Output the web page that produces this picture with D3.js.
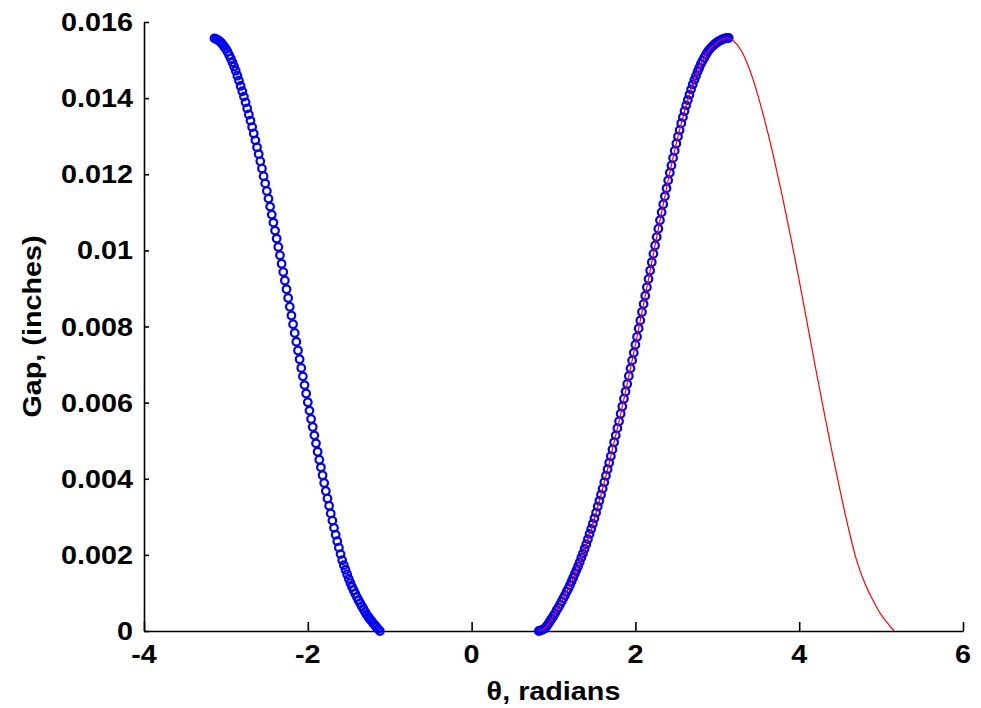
<!DOCTYPE html>
<html>
<head>
<meta charset="utf-8">
<script src="https://cdn.jsdelivr.net/npm/d3@7/dist/d3.min.js"></script>
<style>
body { margin: 0; background: #fff; }
text { font-family: "Liberation Sans", Arial, sans-serif; font-weight: bold; fill: #000; }
</style>
</head>
<body>
<svg width="981" height="708"></svg>
<script>
// blue circles: theta sampled every 0.02 rad, left branch starts at -3.14, right branch at 0.82
var thetaStep = 0.02;
var leftStart = -3.14;
var leftGap = [
  0.01557,0.01555,0.01553,0.01550,0.01546,0.01541,0.01535,0.01529,0.01522,0.01513,
  0.01504,0.01494,0.01483,0.01472,0.01459,0.01446,0.01432,0.01418,0.01404,0.01389,
  0.01373,0.01357,0.01341,0.01324,0.01307,0.01289,0.01271,0.01253,0.01234,0.01215,
  0.01195,0.01176,0.01156,0.01136,0.01115,0.01094,0.01073,0.01052,0.01031,0.01009,
  0.00987,0.00965,0.00943,0.00921,0.00898,0.00875,0.00852,0.00829,0.00806,0.00783,
  0.00760,0.00737,0.00714,0.00691,0.00669,0.00646,0.00624,0.00601,0.00579,0.00557,
  0.00536,0.00514,0.00493,0.00471,0.00450,0.00430,0.00409,0.00389,0.00368,0.00348,
  0.00329,0.00309,0.00290,0.00271,0.00253,0.00236,0.00219,0.00202,0.00186,0.00173,
  0.00161,0.00149,0.00137,0.00126,0.00116,0.00107,0.00098,0.00089,0.00081,0.00073,
  0.00065,0.00058,0.00050,0.00043,0.00037,0.00031,0.00026,0.00020,0.00015,0.00010,
  0.00005,0.00000
];
var rightStart = 0.82;
var rightGap = [
  0.00000,0.00001,0.00003,0.00005,0.00008,0.00014,0.00020,0.00027,0.00033,0.00040,
  0.00047,0.00055,0.00062,0.00070,0.00078,0.00086,0.00094,0.00103,0.00111,0.00120,
  0.00130,0.00140,0.00150,0.00160,0.00170,0.00181,0.00193,0.00204,0.00216,0.00228,
  0.00241,0.00255,0.00268,0.00282,0.00296,0.00311,0.00327,0.00342,0.00358,0.00374,
  0.00391,0.00408,0.00425,0.00442,0.00459,0.00477,0.00496,0.00514,0.00533,0.00551,
  0.00571,0.00590,0.00610,0.00629,0.00649,0.00670,0.00690,0.00711,0.00731,0.00752,
  0.00773,0.00795,0.00816,0.00838,0.00859,0.00881,0.00903,0.00925,0.00947,0.00969,
  0.00991,0.01013,0.01035,0.01057,0.01079,0.01100,0.01121,0.01142,0.01163,0.01184,
  0.01204,0.01223,0.01243,0.01262,0.01281,0.01299,0.01316,0.01334,0.01350,0.01366,
  0.01381,0.01395,0.01409,0.01423,0.01436,0.01448,0.01459,0.01470,0.01480,0.01490,
  0.01498,0.01506,0.01514,0.01521,0.01527,0.01532,0.01536,0.01540,0.01544,0.01547,
  0.01550,0.01552,0.01554,0.01556,0.01557,0.01558,0.01558
];

// red line
var redTheta = [0.82,0.9,1.0,1.1,1.2,1.3,1.4,1.5,1.6,1.7,1.8,1.9,2.0,2.1,2.2,2.3,2.4,2.5,2.6,2.7,2.8,2.9,3.0,3.1,3.14,
  3.2,3.3,3.4,3.5,3.6,3.7,3.8,3.9,4.0,4.1,4.2,4.3,4.4,4.5,4.6,4.7,4.8,4.9,5.0,5.1,5.16];
var redGap = [0,0.00008,0.0004,0.00078,0.0012,0.0017,0.00228,0.00296,0.00374,0.00459,0.00551,0.00649,0.00752,0.00859,
  0.00969,0.01079,0.01184,0.01281,0.01366,0.01436,0.0149,0.01527,0.01547,0.01557,0.01558,
  0.0155,0.01522,0.01472,0.01404,0.01324,0.01234,0.01136,0.01031,0.00921,0.00806,0.00691,0.00579,0.00471,0.00368,
  0.00271,0.00186,0.00126,0.00081,0.00043,0.00015,0];

var xTicks = [-4,-2,0,2,4,6];
var yTicks = [0,0.002,0.004,0.006,0.008,0.01,0.012,0.014,0.016];

var svg = d3.select("svg");
var plotL = 144, plotR = 963, plotT = 22, plotB = 631;
var stretch = 1.15;

var x = d3.scaleLinear().domain([-4, 6]).range([plotL, plotR]);
var y = d3.scaleLinear().domain([0, 0.016]).range([plotB, plotT]);

var blue = leftGap.map(function(g, i){ return {t: leftStart + i*thetaStep, g: g}; })
  .concat(rightGap.map(function(g, i){ return {t: rightStart + i*thetaStep, g: g}; }));

svg.append("g")
  .attr("transform", "translate(0," + plotB + ")")
  .call(d3.axisBottom(x).tickValues(xTicks).tickSizeInner(-9).tickSizeOuter(0).tickFormat(""))
  .call(function(g){ g.selectAll("path,line").attr("stroke", "#000").attr("stroke-width", 1.6); });

svg.append("g")
  .attr("transform", "translate(" + plotL + ",0)")
  .call(d3.axisLeft(y).tickValues(yTicks).tickSizeInner(-5).tickSizeOuter(0).tickFormat(""))
  .call(function(g){ g.selectAll("path,line").attr("stroke", "#000").attr("stroke-width", 1.6); });

function label(px, py, txt, anchor, rot){
  svg.append("g")
    .attr("transform", "translate(" + px + "," + py + ")" + (rot ? " rotate(" + rot + ")" : ""))
    .append("text")
    .attr("transform", "scale(" + stretch + ",1)")
    .attr("text-anchor", anchor)
    .style("font-size", "25px")
    .text(txt);
}

xTicks.forEach(function(d){ label(x(d), 663, d, "middle"); });
yTicks.forEach(function(d){ label(plotL - 11, y(d) + 9, d, "end"); });

label((plotL + plotR) / 2, 700, "\u03b8, radians", "middle");
label(41, (plotT + plotB) / 2, "Gap, (inches)", "middle", -90);

svg.append("g").selectAll("circle")
  .data(blue)
  .enter()
  .append("circle")
  .attr("cx", function(d){ return x(d.t); })
  .attr("cy", function(d){ return y(d.g); })
  .attr("r", 3.8)
  .attr("fill", "none")
  .attr("stroke", "#0000ff")
  .attr("stroke-width", 2.2);

var line = d3.line()
  .x(function(d, i){ return x(redTheta[i]); })
  .y(function(d){ return y(d); })
  .curve(d3.curveMonotoneX);

svg.append("path")
  .attr("d", line(redGap))
  .attr("fill", "none")
  .attr("stroke", "#ff0000")
  .attr("stroke-width", 1.2);
</script>
</body>
</html>
